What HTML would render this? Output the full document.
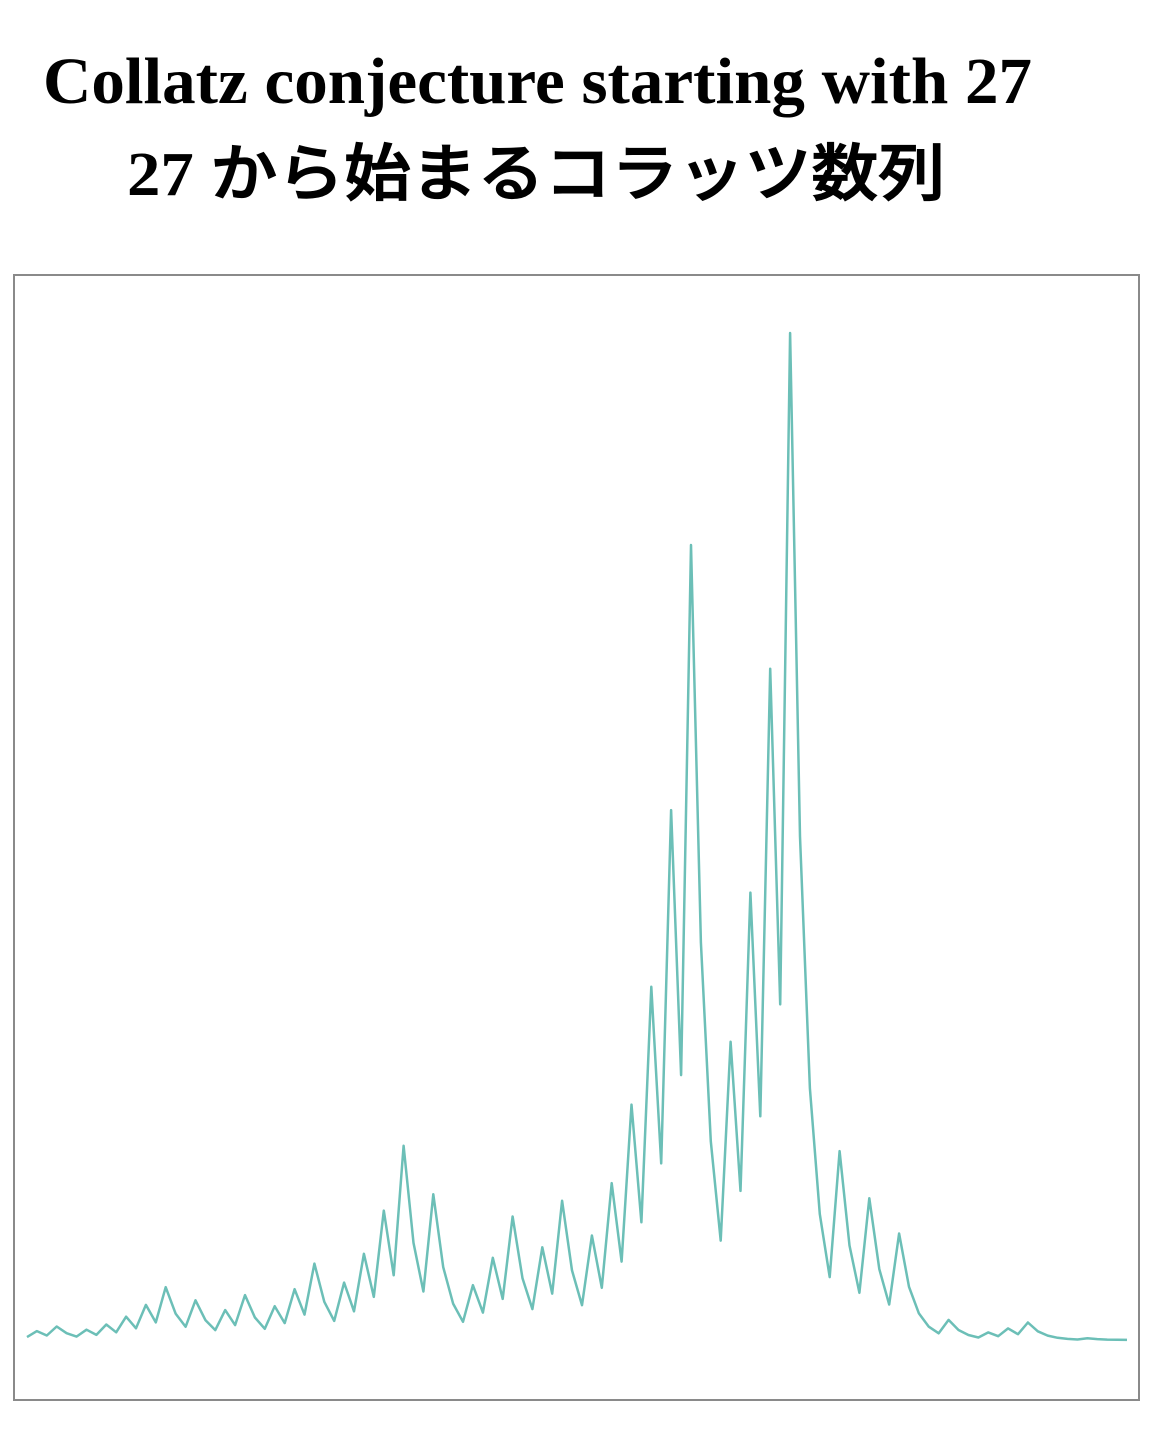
<!DOCTYPE html>
<html><head><meta charset="utf-8"><style>
html,body{margin:0;padding:0;background:#fff;width:1170px;height:1434px;overflow:hidden}
</style></head><body>
<svg width="1170" height="1434" viewBox="0 0 1170 1434" xmlns="http://www.w3.org/2000/svg">
<text x="43" y="103" font-family="'Liberation Serif',serif" font-weight="bold" font-size="66" textLength="989" lengthAdjust="spacingAndGlyphs">Collatz conjecture starting with 27</text>
<text x="127" y="195" font-size="62" textLength="818" lengthAdjust="spacingAndGlyphs"><tspan font-family="'Liberation Serif',serif" font-weight="bold">27 </tspan><tspan font-family="'Noto Sans CJK JP',sans-serif" font-weight="500" stroke="#000" stroke-width="1.2">から始まるコラッツ数列</tspan></text>
<rect x="14" y="275" width="1125" height="1125" fill="none" stroke="#8a8a8a" stroke-width="2"/>
<polyline id="line" fill="none" stroke="#6cbfb7" stroke-width="2.5" stroke-linejoin="round"/>
</svg>
<script>
const values = [27,82,41,124,62,31,94,47,142,71,214,107,322,161,484,242,121,364,182,91,274,137,412,206,103,310,155,466,233,700,350,175,526,263,790,395,1186,593,1780,890,445,1336,668,334,167,502,251,754,377,1132,566,283,850,425,1276,638,319,958,479,1438,719,2158,1079,3238,1619,4858,2429,7288,3644,1822,911,2734,1367,4102,2051,6154,3077,9232,4616,2308,1154,577,1732,866,433,1300,650,325,976,488,244,122,61,184,92,46,23,70,35,106,53,160,80,40,20,10,5,16,8,4,2,1];
const yMax = 9232;
function xScale(i){ return 27 + i * (1127 - 27) / (values.length - 1); }
function yScale(v){ return 1340 - v / yMax * (1340 - 333); }
const pts = values.map((v,i) => xScale(i).toFixed(1) + ',' + yScale(v).toFixed(1)).join(' ');
document.getElementById('line').setAttribute('points', pts);
</script>
</body></html>
